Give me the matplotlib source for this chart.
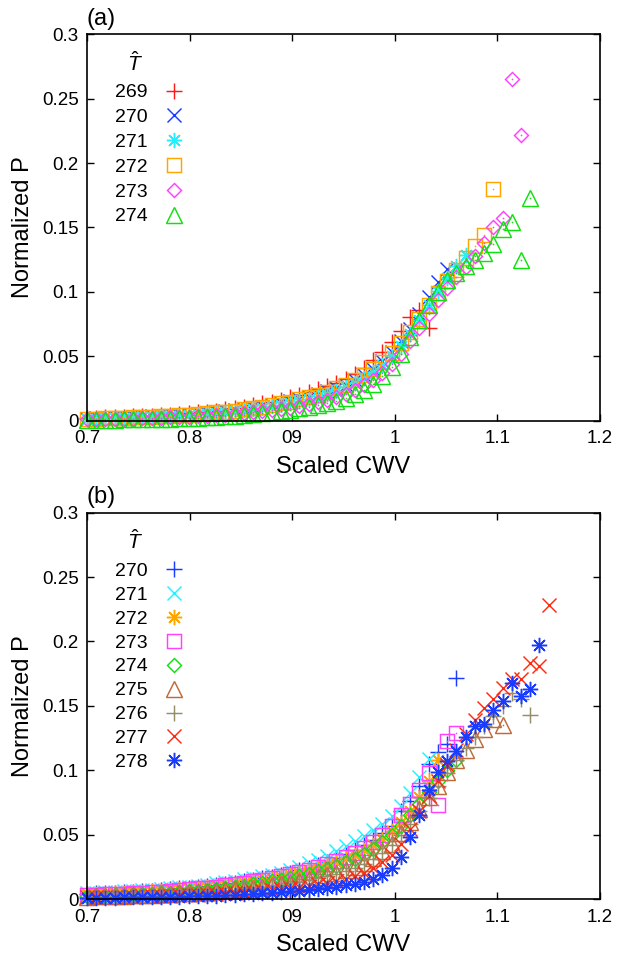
import matplotlib
matplotlib.use("Agg")
import matplotlib.pyplot as plt

plt.rcParams["font.family"] = ["Liberation Sans", "DejaVu Sans"]
plt.rcParams["mathtext.fontset"] = "custom"
plt.rcParams["mathtext.it"] = "Liberation Sans:italic"
plt.rcParams["mathtext.rm"] = "Liberation Sans"

# scaled CWV bins shared by every temperature series
CWV_GRID = [0.700, 0.709, 0.718, 0.727, 0.736, 0.745, 0.754, 0.763, 0.772, 0.781,
            0.790, 0.799, 0.808, 0.817, 0.826, 0.835, 0.844, 0.853, 0.862, 0.871,
            0.880, 0.889, 0.898, 0.907, 0.916, 0.925, 0.934, 0.943, 0.952, 0.961,
            0.970, 0.979, 0.988, 0.997, 1.006, 1.015, 1.024, 1.033, 1.042, 1.051,
            1.060, 1.069, 1.078, 1.087, 1.096, 1.105, 1.114, 1.123, 1.132, 1.141,
            1.150]

# ---- panel (a) ----
TEMPS_A = ["269", "270", "271", "272", "273", "274"]

P_269 = [0.0020, 0.0022, 0.0025, 0.0027, 0.0030, 0.0033, 0.0036, 0.0040, 0.0044, 0.0048,
         0.0053, 0.0058, 0.0064, 0.0071, 0.0079, 0.0088, 0.0098, 0.0109, 0.0121, 0.0134,
         0.0148, 0.0164, 0.0182, 0.0201, 0.0222, 0.0244, 0.0268, 0.0295, 0.0326, 0.0364,
         0.0412, 0.0470, 0.0535, 0.0610, 0.0700, 0.0805, 0.0860, 0.0720]
P_270 = [0.0016, 0.0018, 0.0020, 0.0022, 0.0024, 0.0027, 0.0030, 0.0033, 0.0036, 0.0040,
         0.0044, 0.0048, 0.0053, 0.0059, 0.0065, 0.0072, 0.0080, 0.0089, 0.0099, 0.0110,
         0.0122, 0.0136, 0.0151, 0.0167, 0.0185, 0.0205, 0.0227, 0.0252, 0.0280, 0.0313,
         0.0352, 0.0400, 0.0460, 0.0530, 0.0615, 0.0715, 0.0830, 0.0960, 0.1080, 0.1180]
P_271 = [0.0014, 0.0016, 0.0018, 0.0020, 0.0022, 0.0024, 0.0027, 0.0030, 0.0033, 0.0036,
         0.0040, 0.0044, 0.0049, 0.0054, 0.0060, 0.0066, 0.0073, 0.0081, 0.0090, 0.0100,
         0.0111, 0.0123, 0.0137, 0.0152, 0.0169, 0.0188, 0.0209, 0.0233, 0.0260, 0.0292,
         0.0330, 0.0376, 0.0432, 0.0500, 0.0580, 0.0675, 0.0785, 0.0900, 0.1010, 0.1110,
         0.1200, 0.1290]
P_272 = [0.0015, 0.0017, 0.0019, 0.0021, 0.0023, 0.0026, 0.0029, 0.0032, 0.0035, 0.0039,
         0.0043, 0.0047, 0.0052, 0.0058, 0.0064, 0.0071, 0.0079, 0.0088, 0.0098, 0.0109,
         0.0121, 0.0134, 0.0149, 0.0165, 0.0183, 0.0203, 0.0225, 0.0250, 0.0279, 0.0313,
         0.0353, 0.0400, 0.0456, 0.0522, 0.0600, 0.0690, 0.0790, 0.0895, 0.0995, 0.1085,
         0.1170, 0.1265, 0.1355, 0.1440, 0.1800]
P_273 = [0.0010, 0.0011, 0.0012, 0.0014, 0.0015, 0.0017, 0.0019, 0.0021, 0.0023, 0.0026,
         0.0029, 0.0032, 0.0035, 0.0039, 0.0043, 0.0048, 0.0053, 0.0059, 0.0066, 0.0073,
         0.0082, 0.0091, 0.0102, 0.0114, 0.0128, 0.0144, 0.0162, 0.0183, 0.0208, 0.0238,
         0.0274, 0.0318, 0.0372, 0.0440, 0.0520, 0.0615, 0.0720, 0.0830, 0.0935, 0.1030,
         0.1115, 0.1195, 0.1280, 0.1380, 0.1500, 0.1570, 0.2650, 0.2220]
P_274 = [0.0006, 0.0007, 0.0008, 0.0009, 0.0010, 0.0011, 0.0012, 0.0014, 0.0015, 0.0017,
         0.0019, 0.0021, 0.0024, 0.0027, 0.0030, 0.0034, 0.0039, 0.0044, 0.0050, 0.0057,
         0.0065, 0.0074, 0.0084, 0.0095, 0.0108, 0.0122, 0.0138, 0.0156, 0.0178, 0.0205,
         0.0240, 0.0285, 0.0345, 0.0420, 0.0515, 0.0650, 0.0780, 0.0900, 0.1000, 0.1090,
         0.1150, 0.1200, 0.1250, 0.1300, 0.1370, 0.1490, 0.1540, 0.1250, 0.1730]

SERIES_A = [P_269, P_270, P_271, P_272, P_273, P_274]

# ---- panel (b) ----
TEMPS_B = ["270", "271", "272", "273", "274", "275", "276", "277", "278"]

Q_270 = [0.0040, 0.0043, 0.0046, 0.0049, 0.0053, 0.0057, 0.0061, 0.0066, 0.0071, 0.0076,
         0.0082, 0.0088, 0.0095, 0.0102, 0.0110, 0.0119, 0.0128, 0.0138, 0.0149, 0.0161,
         0.0174, 0.0188, 0.0204, 0.0222, 0.0242, 0.0264, 0.0289, 0.0317, 0.0348, 0.0382,
         0.0420, 0.0462, 0.0510, 0.0570, 0.0680, 0.0760, 0.0880, 0.1050, 0.1140, 0.1200,
         0.1720]
Q_271 = [0.0045, 0.0048, 0.0051, 0.0055, 0.0059, 0.0063, 0.0068, 0.0073, 0.0078, 0.0084,
         0.0090, 0.0097, 0.0104, 0.0112, 0.0121, 0.0131, 0.0141, 0.0152, 0.0164, 0.0177,
         0.0190, 0.0205, 0.0228, 0.0252, 0.0278, 0.0305, 0.0335, 0.0370, 0.0410, 0.0450,
         0.0490, 0.0535, 0.0585, 0.0645, 0.0720, 0.0820, 0.0950, 0.1090]
Q_272 = [0.0035, 0.0038, 0.0041, 0.0044, 0.0047, 0.0051, 0.0055, 0.0059, 0.0064, 0.0069,
         0.0074, 0.0080, 0.0086, 0.0093, 0.0100, 0.0108, 0.0117, 0.0127, 0.0137, 0.0148,
         0.0160, 0.0173, 0.0188, 0.0204, 0.0222, 0.0242, 0.0264, 0.0288, 0.0315, 0.0345,
         0.0380, 0.0420, 0.0468, 0.0525, 0.0595, 0.0680, 0.0790, 0.0920, 0.1076]
Q_273 = [0.0030, 0.0032, 0.0035, 0.0038, 0.0041, 0.0045, 0.0049, 0.0053, 0.0058, 0.0063,
         0.0069, 0.0075, 0.0082, 0.0089, 0.0097, 0.0106, 0.0116, 0.0126, 0.0137, 0.0149,
         0.0162, 0.0177, 0.0193, 0.0210, 0.0229, 0.0250, 0.0273, 0.0298, 0.0326, 0.0358,
         0.0394, 0.0440, 0.0500, 0.0570, 0.0650, 0.0740, 0.0850, 0.0980, 0.0727, 0.1230,
         0.1290]
Q_274 = [0.0022, 0.0024, 0.0026, 0.0029, 0.0032, 0.0035, 0.0038, 0.0042, 0.0046, 0.0050,
         0.0055, 0.0060, 0.0066, 0.0072, 0.0079, 0.0086, 0.0094, 0.0103, 0.0113, 0.0124,
         0.0136, 0.0149, 0.0163, 0.0178, 0.0195, 0.0214, 0.0235, 0.0258, 0.0284, 0.0314,
         0.0348, 0.0390, 0.0440, 0.0500, 0.0570, 0.0650, 0.0740, 0.0830, 0.0920, 0.1000,
         0.1080]
Q_275 = [0.0018, 0.0020, 0.0022, 0.0024, 0.0026, 0.0028, 0.0031, 0.0034, 0.0037, 0.0040,
         0.0044, 0.0048, 0.0052, 0.0057, 0.0062, 0.0068, 0.0074, 0.0081, 0.0089, 0.0097,
         0.0106, 0.0116, 0.0127, 0.0139, 0.0152, 0.0167, 0.0184, 0.0203, 0.0224, 0.0250,
         0.0280, 0.0320, 0.0370, 0.0430, 0.0510, 0.0600, 0.0700, 0.0790, 0.0880, 0.0990,
         0.1080, 0.1160, 0.1240, 0.1320, 0.1400, 0.1350]
Q_276 = [0.0016, 0.0018, 0.0020, 0.0022, 0.0024, 0.0026, 0.0028, 0.0031, 0.0034, 0.0037,
         0.0040, 0.0044, 0.0048, 0.0053, 0.0058, 0.0063, 0.0069, 0.0076, 0.0083, 0.0091,
         0.0100, 0.0110, 0.0121, 0.0133, 0.0146, 0.0161, 0.0178, 0.0197, 0.0218, 0.0243,
         0.0273, 0.0310, 0.0358, 0.0418, 0.0495, 0.0585, 0.0685, 0.0785, 0.0880, 0.0980,
         0.1080, 0.1170, 0.1260, 0.1340, 0.1420, 0.1500, 0.1600, 0.1550, 0.1430]
Q_277 = [0.0012, 0.0013, 0.0014, 0.0015, 0.0016, 0.0018, 0.0020, 0.0022, 0.0024, 0.0026,
         0.0028, 0.0031, 0.0034, 0.0037, 0.0040, 0.0044, 0.0048, 0.0053, 0.0058, 0.0064,
         0.0070, 0.0077, 0.0085, 0.0094, 0.0104, 0.0115, 0.0128, 0.0142, 0.0158, 0.0178,
         0.0202, 0.0240, 0.0290, 0.0345, 0.0430, 0.0540, 0.0680, 0.0800, 0.0920, 0.1040,
         0.1160, 0.1280, 0.1390, 0.1480, 0.1550, 0.1640, 0.1710, 0.1710, 0.1830, 0.1810,
         0.2280]
Q_278 = [0.0008, 0.0009, 0.0010, 0.0011, 0.0012, 0.0013, 0.0014, 0.0015, 0.0016, 0.0017,
         0.0019, 0.0021, 0.0023, 0.0025, 0.0027, 0.0030, 0.0033, 0.0036, 0.0040, 0.0044,
         0.0049, 0.0054, 0.0060, 0.0066, 0.0073, 0.0080, 0.0088, 0.0097, 0.0107, 0.0118,
         0.0134, 0.0158, 0.0190, 0.0238, 0.0330, 0.0480, 0.0650, 0.0850, 0.0990, 0.1070,
         0.1150, 0.1260, 0.1340, 0.1360, 0.1470, 0.1540, 0.1680, 0.1580, 0.1630, 0.1970]

SERIES_B = [Q_270, Q_271, Q_272, Q_273, Q_274, Q_275, Q_276, Q_277, Q_278]

X_TICKS = [0.7, 0.8, 0.9, 1.0, 1.1, 1.2]
X_TICK_LABELS = ["0.7", "0.8", "09", "1", "1.1", "1.2"]
Y_TICKS = [0, 0.05, 0.1, 0.15, 0.2, 0.25, 0.3]
Y_TICK_LABELS = ["0", "0.05", "0.1", "0.15", "0.2", "0.25", "0.3"]

# gnuplot-like point types: (marker, colour, size, centre dot)
STAR = (8, 2, 0)
STYLE_A = [
    ("+", "#ff1a1a", 11, False),
    ("x", "#1a3cff", 10, False),
    (STAR, "#20f0ff", 11, False),
    ("s", "#ffa500", 9.5, True),
    ("D", "#ff40ff", 7.5, True),
    ("^", "#10e010", 11.5, True),
]
STYLE_B = [
    ("+", "#1a3cff", 11, False),
    ("x", "#20f0ff", 10, False),
    (STAR, "#ffa500", 11, False),
    ("s", "#ff40ff", 9.5, True),
    ("D", "#10e010", 7.5, True),
    ("^", "#c06a3a", 11.5, True),
    ("+", "#958e68", 11, False),
    ("x", "#ff2a10", 10, False),
    (STAR, "#1a3cff", 11, False),
]


def draw_panel(ax, temps, series, styles, tag, spacing):
    handles = []
    for temp, yvals, (mk, col, ms, dot) in zip(temps, series, styles):
        xvals = CWV_GRID[:len(yvals)]
        h, = ax.plot(xvals, yvals, linestyle="none", marker=mk, markersize=ms,
                     markerfacecolor="none", markeredgecolor=col,
                     markeredgewidth=1.05, clip_on=False, label=temp)
        if dot:
            ax.plot(xvals, yvals, linestyle="none", marker="o", markersize=1.2,
                    markerfacecolor=col, markeredgecolor=col, markeredgewidth=0,
                    clip_on=False)
        handles.append(h)

    ax.set_xlim(0.7, 1.2)
    ax.set_ylim(0, 0.3)
    ax.set_xticks(X_TICKS)
    ax.set_xticklabels(X_TICK_LABELS)
    ax.set_yticks(Y_TICKS)
    ax.set_yticklabels(Y_TICK_LABELS)
    ax.tick_params(direction="in", length=5, width=1.0, top=True, right=True,
                   labelsize=13.5)
    ax.tick_params(axis="x", pad=7)
    ax.tick_params(axis="y", pad=6)
    for sp in ax.spines.values():
        sp.set_linewidth(1.2)
    ax.set_xlabel("Scaled CWV", fontsize=17, labelpad=6)
    ax.set_ylabel("Normalized P", fontsize=17, labelpad=6)

    ax.legend(handles=handles, loc="upper left", bbox_to_anchor=(0.055, 0.872),
              frameon=False, markerfirst=False, fontsize=14,
              handlelength=1.2, handletextpad=0.75, labelspacing=spacing,
              borderpad=0, borderaxespad=0)
    ax.text(0.094, 0.925, r"$\hat{T}$", transform=ax.transAxes, fontsize=15,
            ha="center", va="center")
    ax.text(0.0, 1.012, tag, transform=ax.transAxes, fontsize=17,
            ha="left", va="bottom")


fig = plt.figure(figsize=(6.17, 9.57), dpi=100)
ax_a = fig.add_axes([0.141, 0.5604, 0.8314, 0.4038])
ax_b = fig.add_axes([0.141, 0.0606, 0.8314, 0.4037])

draw_panel(ax_a, TEMPS_A, SERIES_A, STYLE_A, "(a)", 0.37)
draw_panel(ax_b, TEMPS_B, SERIES_B, STYLE_B, "(b)", 0.325)

fig.savefig("out.png", dpi=100)
